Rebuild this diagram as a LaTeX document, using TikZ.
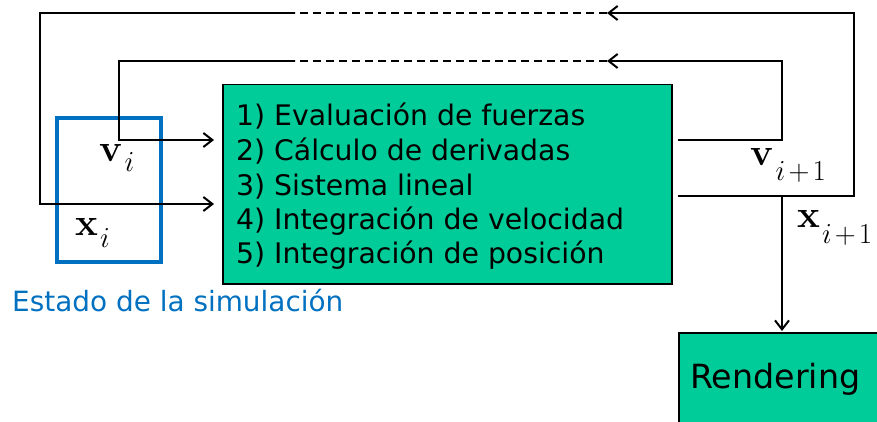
\RequirePackage{fix-cm}
\documentclass[tikz,border=0pt]{standalone}
\usepackage[no-math]{fontspec}
\setmainfont{DejaVu Sans}
\usepackage{graphicx}
\usetikzlibrary{arrows.meta}
\definecolor{boxgreen}{RGB}{0,204,153}
\definecolor{stateblue}{RGB}{0,112,192}
\newcommand{\vecsub}[3]{\scalebox{1.2}{$\mathbf{#1}$}\kern2pt\raisebox{-#3}{\fontsize{29}{29}\selectfont$#2$}}
\begin{document}
\begin{tikzpicture}[x=1pt,y=-1pt,
  conn/.style={line width=2pt, line join=miter},
  arr/.style={conn, -{Straight Barb[length=9pt,width=14pt,line width=2pt]}},
  dashconn/.style={conn, dash pattern=on 8pt off 5pt},
  greenbox/.style={draw=black, fill=boxgreen, line width=1.5pt, inner sep=0pt, anchor=north west},
  listtext/.style={anchor=base west, inner sep=0pt, font=\fontsize{28.3}{34}\selectfont},
  mathlabel/.style={anchor=base west, inner sep=0pt, font=\fontsize{32}{36}\selectfont}
]
\useasboundingbox (0,0) rectangle (877,422);

% main process box
\node[greenbox, minimum width=449pt, minimum height=199pt] (proc) at (222,84) {};
\node[listtext] (s1) at (236,126) {1) Evaluación de fuerzas};
\node[listtext] (s2) at (236,160.5) {2) Cálculo de derivadas};
\node[listtext] (s3) at (236,195) {3) Sistema lineal};
\node[listtext] (s4) at (236,229) {4) Integración de velocidad};
\node[listtext] (s5) at (236,263) {5) Integración de posición};

% rendering box
\node[greenbox, minimum width=210pt, minimum height=100pt] (rend) at (678,332) {};
\node[anchor=base west, inner sep=0pt, font=\fontsize{33.3}{36}\selectfont] (rendtext) at (690,388) {Rendering};

% state box
\node[draw=stateblue, line width=4pt, minimum width=104pt, minimum height=144pt, anchor=north west, inner sep=0pt] (state) at (55,116) {};
\node[anchor=base west, inner sep=0pt, text=stateblue, font=\fontsize{27.9}{32}\selectfont] (statelabel) at (12,311) {Estado de la simulación};

% math labels
\node[mathlabel] (vi) at (99,161) {\vecsub{v}{i}{10pt}};
\node[mathlabel] (xi) at (75,235) {\vecsub{x}{i}{12pt}};
\node[mathlabel] (vn) at (750,165) {\vecsub{v}{i\mskip2mu{+}\mskip2mu1}{16pt}};
\node[mathlabel] (xn) at (797,227) {\vecsub{x}{i\mskip2mu{+}\mskip2mu1}{16pt}};

% coordinates
\coordinate (vout) at (678,140);
\coordinate (xout) at (678,196);
\coordinate (vin) at (214,140);
\coordinate (xin) at (214,204);
\coordinate (vr1) at (782,140);
\coordinate (vr2) at (782,61);
\coordinate (vtip) at (607,61);
\coordinate (vdash) at (295,61);
\coordinate (vl1) at (119,61);
\coordinate (vl2) at (119,140);
\coordinate (xr1) at (854,196);
\coordinate (xr2) at (854,13);
\coordinate (xtip) at (607,13);
\coordinate (xdash) at (295,13);
\coordinate (xl1) at (40,13);
\coordinate (xl2) at (40,204);
\coordinate (xsplit) at (782,196);
\coordinate (rtop) at (782,331);

% velocity loop
\draw[arr] (vout) -- (vr1) -- (vr2) -- (vtip);
\draw[dashconn] (vtip) -- (vdash);
\draw[arr] (vdash) -- (vl1) -- (vl2) -- (vin);

% position loop
\draw[arr] (xout) -- (xr1) -- (xr2) -- (xtip);
\draw[dashconn] (xtip) -- (xdash);
\draw[arr] (xdash) -- (xl1) -- (xl2) -- (xin);

% to rendering
\draw[arr] (xsplit) -- (rtop);
\end{tikzpicture}
\end{document}
